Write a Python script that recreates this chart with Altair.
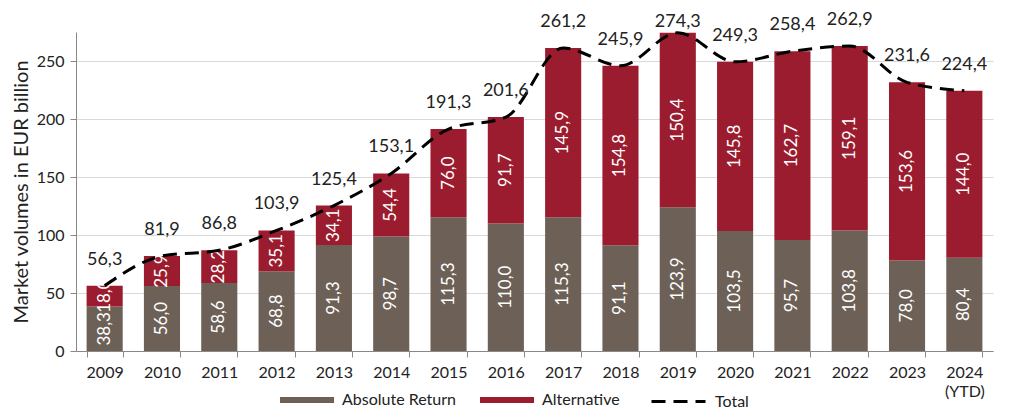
import altair as alt
import pandas as pd

years = ["2009", "2010", "2011", "2012", "2013", "2014", "2015", "2016",
         "2017", "2018", "2019", "2020", "2021", "2022", "2023", "2024"]
absolute_return = [38.3, 56.0, 58.6, 68.8, 91.3, 98.7, 115.3, 110.0,
                   115.3, 91.1, 123.9, 103.5, 95.7, 103.8, 78.0, 80.4]
alternative = [18.0, 25.9, 28.2, 35.1, 34.1, 54.4, 76.0, 91.7,
               145.9, 154.8, 150.4, 145.8, 162.7, 159.1, 153.6, 144.0]
total = [56.3, 81.9, 86.8, 103.9, 125.4, 153.1, 191.3, 201.6,
         261.2, 245.9, 274.3, 249.3, 258.4, 262.9, 231.6, 224.4]

series = ["Absolute Return", "Alternative"]
colors = ["#6d6157", "#9b1c2e"]
FONT = "Lato"

rows = []
for i, y in enumerate(years):
    rows.append({"year": y, "series": series[0], "value": absolute_return[i], "order": 0})
    rows.append({"year": y, "series": series[1], "value": alternative[i], "order": 1})
long_df = pd.DataFrame(rows)
tot_df = pd.DataFrame({"year": years, "total": total, "kind": ["Total"] * len(years)})

x_enc = alt.X("year:N", sort=years, title=None,
              scale=alt.Scale(paddingInner=0.37, paddingOuter=0.185),
              axis=alt.Axis(labelAngle=0, labelFontSize=16, labelFont=FONT,
                            labelColor="#222", tickBand="extent", tickSize=6,
                            domainColor="#888", tickColor="#888", labelPadding=7,
                            labelLineHeight=19,
                            labelExpr="datum.value == '2024' ? ['2024', '(YTD)'] : datum.value"))
y_scale = alt.Scale(domain=[0, 275], nice=False)

bars = alt.Chart(long_df).mark_bar().encode(
    x=x_enc,
    y=alt.Y("value:Q", stack="zero", scale=y_scale,
            title="Market volumes in EUR billion",
            axis=alt.Axis(values=[0, 50, 100, 150, 200, 250], labelFontSize=16,
                          labelFont=FONT, labelColor="#222", titleFont=FONT,
                          titleFontSize=20, titleFontWeight="normal", titleColor="#222",
                          gridColor="#d9d9d9", domainColor="#888", tickColor="#888",
                          tickSize=6, labelPadding=6, titlePadding=5)),
    color=alt.Color("series:N", scale=alt.Scale(domain=series, range=colors),
                    legend=alt.Legend(orient="none", legendX=204, legendY=341,
                                      direction="horizontal", title=None,
                                      symbolType="M-1,-0.11L1,-0.11L1,0.11L-1,0.11Z",
                                      symbolSize=2916, symbolStrokeWidth=0,
                                      labelFontSize=16, labelFont=FONT, labelColor="#222",
                                      labelOffset=8, columnPadding=24)),
    order=alt.Order("order:Q"),
)

seg_text = alt.Chart(long_df).transform_stack(
    stack="value", groupby=["year"], as_=["y0", "y1"],
    sort=[alt.SortField("order", order="ascending")]
).transform_calculate(
    mid="(datum.y0 + datum.y1) / 2",
    label="replace(format(datum.value, '.1f'), '.', ',')"
).mark_text(angle=270, color="white", fontSize=17, font=FONT,
            align="center", baseline="middle").encode(
    x=alt.X("year:N", sort=years),
    y=alt.Y("mid:Q", scale=y_scale),
    text="label:N",
)

line = alt.Chart(tot_df).mark_line(color="black", strokeWidth=3,
                                   interpolate="monotone").encode(
    x=alt.X("year:N", sort=years),
    y=alt.Y("total:Q", scale=y_scale),
    strokeDash=alt.StrokeDash("kind:N", scale=alt.Scale(domain=["Total"], range=[[14, 8]]),
                              legend=alt.Legend(orient="none", legendX=574, legendY=341,
                                                title=None, symbolType="stroke",
                                                symbolSize=2916, symbolStrokeWidth=3,
                                                symbolStrokeColor="black",
                                                labelFontSize=16, labelFont=FONT,
                                                labelColor="#222", labelOffset=8)),
)

tot_base = alt.Chart(tot_df).transform_calculate(
    label="replace(format(datum.total, '.1f'), '.', ',')"
)
tot_enc = dict(
    x=alt.X("year:N", sort=years),
    y=alt.Y("total:Q", scale=y_scale),
    text="label:N",
)
tot_text = tot_base.transform_filter("datum.total < 270").mark_text(
    fontSize=18, font=FONT, color="#222", align="center",
    baseline="bottom", dy=-17).encode(**tot_enc)
tot_text_top = tot_base.transform_filter("datum.total >= 270").mark_text(
    fontSize=18, font=FONT, color="#222", align="center",
    baseline="bottom", dy=-2).encode(**tot_enc)

chart = alt.layer(bars, seg_text, line, tot_text, tot_text_top).properties(
    width=917, height=319,
    autosize=alt.AutoSizeParams(type="none"),
    padding={"left": 68, "top": 24, "right": 14, "bottom": 60},
).configure_view(stroke=None).configure_axisX(grid=False)

chart.save("out.html", embed_options={"renderer": "svg", "actions": False})
